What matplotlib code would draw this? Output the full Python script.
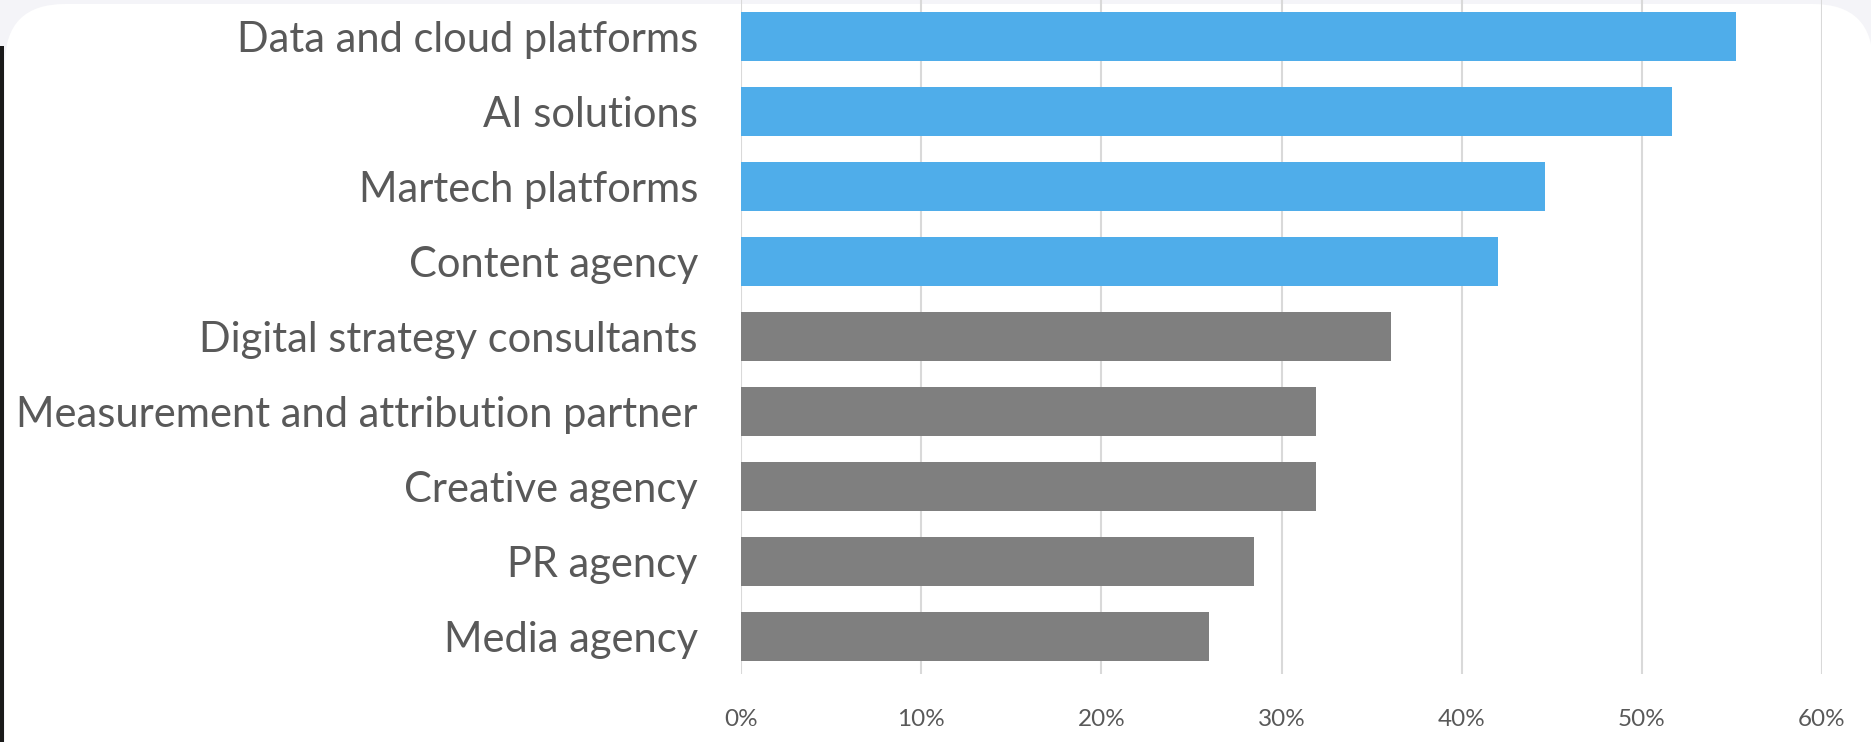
import matplotlib.pyplot as plt
from matplotlib.patches import FancyBboxPatch, Rectangle

# --- data ---
categories = [
    "Data and cloud platforms",
    "AI solutions",
    "Martech platforms",
    "Content agency",
    "Digital strategy consultants",
    "Measurement and attribution partner",
    "Creative agency",
    "PR agency",
    "Media agency",
]
values = [55.2, 51.7, 44.6, 42.0, 36.1, 31.9, 31.9, 28.5, 26.0]
highlight = [True, True, True, True, False, False, False, False, False]
x_ticks = [0, 10, 20, 30, 40, 50, 60]

BLUE = "#4FADEA"
GREY = "#7F7F7F"
TEXT = "#595959"

plt.rcParams["font.family"] = ["Lato", "DejaVu Sans"]

W, H = 1871, 742
fig = plt.figure(figsize=(W / 100, H / 100), dpi=100)
fig.patch.set_facecolor("#F4F4F8")

# background layer in pixel units: white card with rounded top corners
bg = fig.add_axes([0, 0, 1, 1], zorder=-1)
bg.set_xlim(0, W)
bg.set_ylim(H, 0)
bg.axis("off")
bg.add_patch(FancyBboxPatch((5, 4), W - 3, H + 100,
                            boxstyle="round,pad=0,rounding_size=60",
                            facecolor="white", edgecolor="none"))
bg.add_patch(Rectangle((0, 46), 4, H, facecolor="#1A1A1A", edgecolor="none"))

# plot area: 0..60% spans x=741..1822 px, rows span y=-1..674 px
ax = fig.add_axes([741 / W, 1 - 674 / H, (1822 - 741) / W, 675 / H])
ax.set_facecolor("none")

ypos = list(range(len(categories)))
colors = [BLUE if h else GREY for h in highlight]
ax.barh(ypos, values, height=0.65, color=colors, zorder=2)

ax.set_xlim(0, 60)
ax.set_ylim(len(categories) - 0.5, -0.5)
ax.set_xticks(x_ticks)
ax.set_xticklabels([f"{t}%" for t in x_ticks])
ax.set_yticks(ypos)
ax.set_yticklabels(categories)

ax.grid(axis="x", color="#D9D9D9", linewidth=1.5, zorder=1)
ax.set_axisbelow(True)
for s in ax.spines.values():
    s.set_visible(False)

ax.tick_params(axis="x", length=0, pad=25, labelsize=17.5, labelcolor=TEXT)
ax.tick_params(axis="y", length=0, pad=31, labelsize=30, labelcolor=TEXT)

fig.savefig("out.png", dpi=100, facecolor=fig.get_facecolor())
